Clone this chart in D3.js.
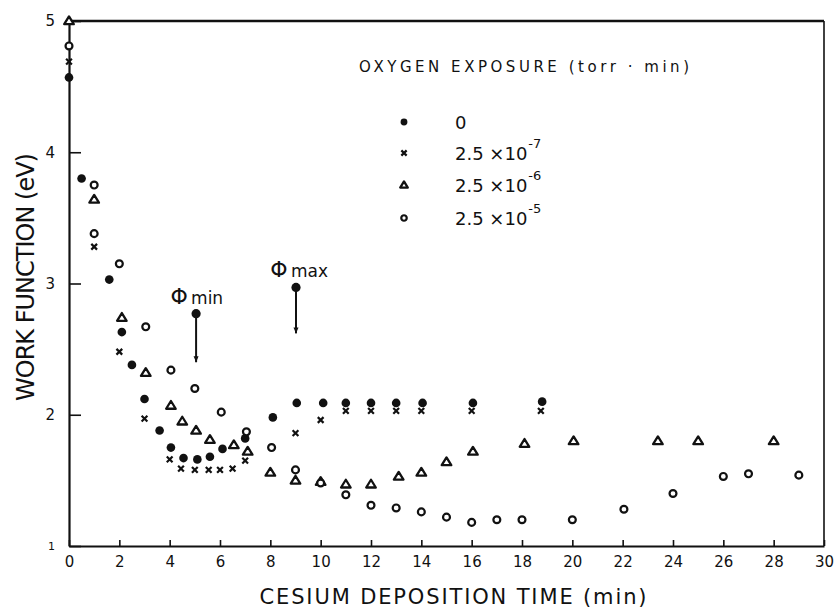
<!DOCTYPE html>
<html>
<head>
<meta charset="utf-8">
<script src="https://cdn.jsdelivr.net/npm/d3@7"></script>
<style>
  body { margin: 0; background: #fff; }
  svg { display: block; }
  text { font-family: "DejaVu Sans", sans-serif; fill: #111; }
</style>
</head>
<body>
<svg id="chart" width="834" height="608"></svg>
<script>
// cesium deposition time (min), work function (eV)
const xTickValues = [0, 2, 4, 6, 8, 10, 12, 14, 16, 18, 20, 22, 24, 26, 28, 30]
const yTickValues = [1, 2, 3, 4, 5]

const exposure0 = [
  [0, 4.57], [0.5, 3.80], [1.6, 3.03], [2.1, 2.63], [2.5, 2.38], [3, 2.12], [3.6, 1.88],
  [4.05, 1.75], [4.55, 1.67], [5.1, 1.66], [5.6, 1.68], [6.1, 1.74], [7, 1.82], [8.1, 1.98],
  [9.05, 2.09], [10.1, 2.09], [11, 2.09], [12, 2.09], [13, 2.09], [14.05, 2.09], [16.05, 2.09], [18.8, 2.10]
]
const exposure7 = [
  [0, 4.69], [1, 3.28], [2, 2.48], [3, 1.97], [4, 1.66], [4.45, 1.59], [5, 1.58], [5.55, 1.58],
  [6, 1.58], [6.5, 1.59], [7, 1.65], [9, 1.86], [10, 1.96], [11, 2.03], [12, 2.03], [13, 2.03],
  [14, 2.03], [16, 2.03], [18.75, 2.03]
]
const exposure6 = [
  [0, 5.0], [1, 3.64], [2.1, 2.74], [3.05, 2.32], [4.05, 2.07], [4.5, 1.95], [5.05, 1.88], [5.6, 1.81],
  [6.55, 1.77], [7.1, 1.72], [8, 1.56], [9, 1.50], [10, 1.49], [11, 1.47], [12, 1.47], [13.1, 1.53],
  [14, 1.56], [15, 1.64], [16.05, 1.72], [18.1, 1.78], [20.05, 1.80], [23.4, 1.80], [25, 1.80], [28, 1.80]
]
const exposure5 = [
  [0, 4.81], [1, 3.75], [1, 3.38], [2, 3.15], [3.05, 2.67], [4.05, 2.34], [5, 2.20], [6.05, 2.02],
  [7.05, 1.87], [8.05, 1.75], [9, 1.58], [10, 1.48], [11, 1.39], [12, 1.31], [13, 1.29], [14, 1.26],
  [15, 1.22], [16, 1.18], [17, 1.20], [18, 1.20], [20, 1.20], [22.05, 1.28], [24, 1.40], [26, 1.53],
  [27, 1.55], [29, 1.54]
]

const seriesLabels = ["0", "2.5 \u00d710", "2.5 \u00d710", "2.5 \u00d710"]
const seriesExponents = ["", "-7", "-6", "-5"]
const seriesSymbols = ["dot", "cross", "triangle", "ring"]

// phi min / phi max markers: x, top value, arrow end value
const phiMarks = [
  { sub: "min", x: 5.05, top: 2.77, bottom: 2.40 },
  { sub: "max", x: 9.02, top: 2.97, bottom: 2.62 }
]

const svg = d3.select("#chart")
const x = d3.scaleLinear().domain([0, 30]).range([69, 824])
const y = d3.scaleLinear().domain([1, 5]).range([546, 21])

function drawSymbol(g, kind, size) {
    if (kind == "dot") {
        g.append("circle").attr("r", size * 0.9).attr("fill", "#111")
    } else if (kind == "ring") {
        g.append("circle").attr("r", size * 0.72).attr("fill", "#fff")
            .attr("stroke", "#111").attr("stroke-width", 2.2)
    } else if (kind == "triangle") {
        const s = size * 0.95
        g.append("path").attr("d", "M0," + (-s) + "L" + (s * 1.05) + "," + (s * 0.7) + "L" + (-s * 1.05) + "," + (s * 0.7) + "Z")
            .attr("fill", "#fff").attr("stroke", "#111").attr("stroke-width", 2.3)
            .attr("stroke-linejoin", "round")
    } else {
        const s = size * 0.6
        g.append("path").attr("d", "M" + (-s) + "," + (-s) + "L" + s + "," + s + "M" + s + "," + (-s) + "L" + (-s) + "," + s)
            .attr("stroke", "#111").attr("stroke-width", 2.2)
    }
}

// frame
const frame = svg.append("g").attr("stroke", "#111").attr("fill", "none")
frame.append("line").attr("x1", x(0)).attr("x2", x(30)).attr("y1", y(5)).attr("y2", y(5)).attr("stroke-width", 2.6)
frame.append("line").attr("x1", x(30)).attr("x2", x(30)).attr("y1", y(5)).attr("y2", y(1)).attr("stroke-width", 1.6)

const xAxis = d3.axisBottom(x).tickValues(xTickValues).tickSizeInner(-6).tickSizeOuter(0).tickPadding(10)
const yAxis = d3.axisLeft(y).tickValues(yTickValues).tickFormat(d3.format("d"))
    .tickSizeInner(-12).tickSizeOuter(0).tickPadding(14)

svg.append("g").attr("class", "x-axis")
    .attr("transform", "translate(0," + y(1) + ")")
    .call(xAxis)
svg.append("g").attr("class", "y-axis")
    .attr("transform", "translate(" + x(0) + ",0)")
    .call(yAxis)

svg.selectAll(".domain").attr("stroke", "#111").attr("stroke-width", 2.2)
svg.selectAll(".tick line").attr("stroke", "#111").attr("stroke-width", 1.6)
svg.selectAll(".tick text").attr("font-size", 15).attr("fill", "#111")
    .attr("font-family", "DejaVu Sans, sans-serif")
svg.select(".y-axis").selectAll(".tick text").filter(d => d == 1).attr("font-size", 11)

// axis titles
svg.append("text")
    .attr("x", 453).attr("y", 604)
    .attr("text-anchor", "middle")
    .attr("font-size", 21)
    .attr("textLength", 387).attr("lengthAdjust", "spacing")
    .text("CESIUM  DEPOSITION  TIME  (min)")

svg.append("text")
    .attr("transform", "translate(34,277) rotate(-90)")
    .attr("text-anchor", "middle")
    .attr("font-size", 24)
    .attr("textLength", 248).attr("lengthAdjust", "spacing")
    .text("WORK  FUNCTION (eV)")

// data points
const allSeries = [exposure0, exposure7, exposure6, exposure5]
allSeries.forEach((data, i) => {
    svg.append("g").attr("class", "series-" + i)
        .selectAll("g")
        .data(data)
        .join("g")
        .attr("transform", d => "translate(" + x(d[0]) + "," + y(d[1]) + ")")
        .each(function() { drawSymbol(d3.select(this), seriesSymbols[i], 4.8) })
})

// phi annotations
phiMarks.forEach(m => {
    const g = svg.append("g")
    g.append("line")
        .attr("x1", x(m.x)).attr("x2", x(m.x))
        .attr("y1", y(m.top)).attr("y2", y(m.bottom))
        .attr("stroke", "#111").attr("stroke-width", 2)
    g.append("path")
        .attr("d", "M" + (x(m.x) - 2.5) + "," + (y(m.bottom) - 6) + "L" + (x(m.x) + 2.5) + "," + (y(m.bottom) - 6) + "L" + x(m.x) + "," + y(m.bottom) + "Z")
        .attr("fill", "#111")
    g.append("circle").attr("cx", x(m.x)).attr("cy", y(m.top)).attr("r", 4.6).attr("fill", "#111")
    g.append("text")
        .attr("x", x(m.x) - 17).attr("y", y(m.top) - 10)
        .attr("text-anchor", "middle").attr("font-size", 22)
        .text("\u03a6")
    g.append("text")
        .attr("x", x(m.x) - 5).attr("y", y(m.top) - 10)
        .attr("font-size", 17)
        .text(m.sub)
})

// legend
const legend = svg.append("g").attr("class", "legend")
legend.append("text")
    .attr("x", 359).attr("y", 72)
    .attr("font-size", 15)
    .attr("textLength", 330).attr("lengthAdjust", "spacing")
    .text("OXYGEN  EXPOSURE  (torr \u00b7 min)")

const rowY = [122, 153, 185, 218]
seriesLabels.forEach((label, i) => {
    const row = legend.append("g").attr("transform", "translate(0," + rowY[i] + ")")
    const mg = row.append("g").attr("transform", "translate(404,0)")
    drawSymbol(mg, seriesSymbols[i], i == 1 ? 4.4 : 3.8)
    const t = row.append("text").attr("x", 455).attr("y", 7).attr("font-size", 18)
    t.append("tspan").text(label)
    if (seriesExponents[i]) {
        t.append("tspan").attr("dy", -12).attr("dx", 1).attr("font-size", 13).text(seriesExponents[i])
    }
})
</script>
</body>
</html>
